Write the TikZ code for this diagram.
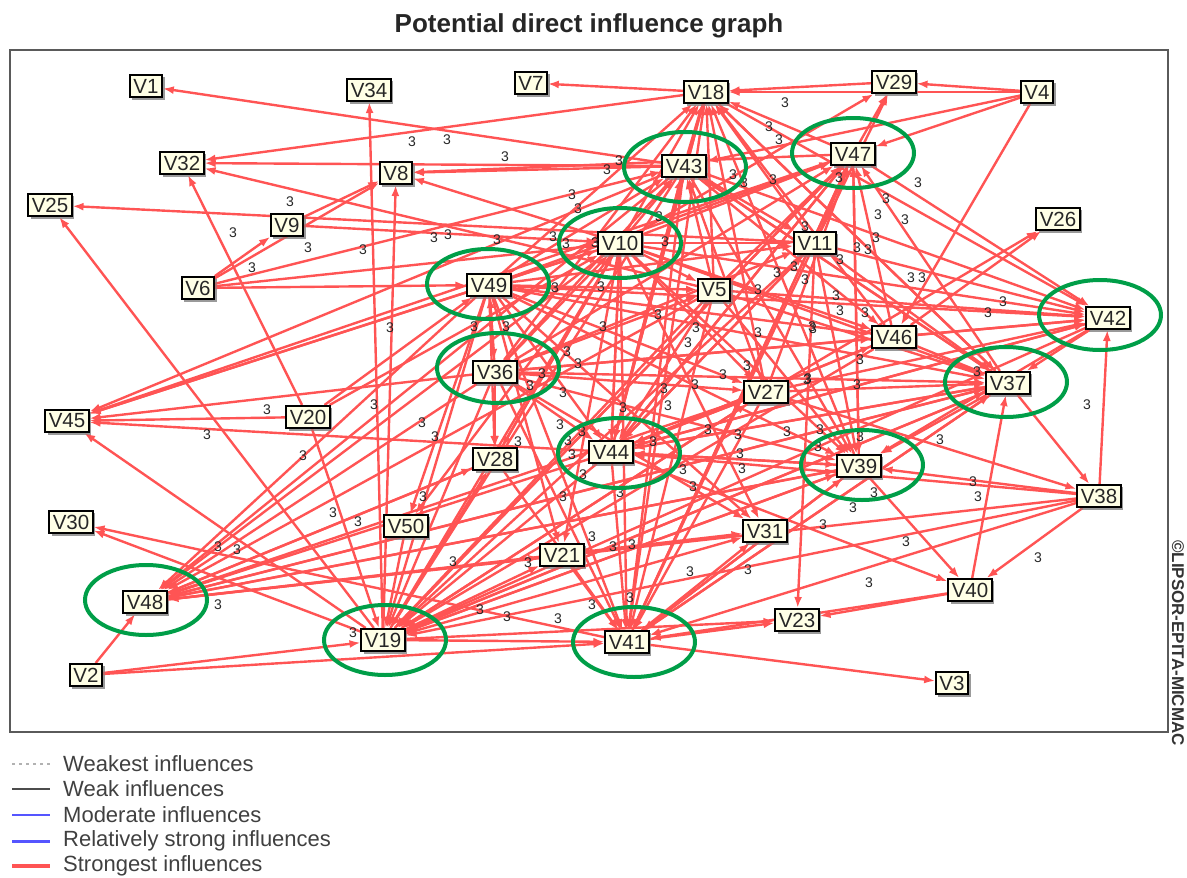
\documentclass[tikz,border=0pt]{standalone}
\usepackage{fontspec}
\setmainfont{Liberation Sans}
\usetikzlibrary{arrows.meta,shadows}
\definecolor{cream}{RGB}{255,255,230}
\definecolor{redl}{RGB}{255,84,84}
\definecolor{gr}{RGB}{0,158,72}
\definecolor{txt}{RGB}{38,38,38}
\definecolor{frm}{RGB}{90,90,90}
\definecolor{bluel}{RGB}{85,85,255}
\begin{document}
\begin{tikzpicture}[x=1pt,y=-1pt,
  vbox/.style={draw=black, line width=1.6pt, fill=cream, inner xsep=3.5pt, inner ysep=4pt,
    font=\fontsize{20.5}{20.5}\selectfont, text=txt,
    drop shadow={shadow xshift=2.5pt, shadow yshift=-2.5pt, fill=black!50, opacity=0.55}},
  edge/.style={draw=redl, line width=2.4pt, -{Latex[length=11pt,width=8pt]}},
  lab/.style={font=\fontsize{14}{14}\selectfont, text=txt, inner sep=0pt},
  ring/.style={draw=gr, line width=4pt},
  legtext/.style={font=\fontsize{22}{22}\selectfont, text=black!75, anchor=west, inner sep=0pt}]
\useasboundingbox (0,0) rectangle (1187,878);
% title and frame
\node[font=\bfseries\fontsize{26}{26}\selectfont, text=txt] (title) at (589,26) {Potential direct influence graph};
\draw[frm, line width=1.5pt] (10,50) rectangle (1168,732);
\node[rotate=-90, font=\bfseries\fontsize{17}{17}\selectfont, text=black!80, inner sep=0pt] (copy) at (1178,643) {©LIPSOR-EPITA-MICMAC};
% coordinates of variables
\foreach \n/\x/\y in {1/146/86, 34/369/90, 7/531/83, 18/706/92, 29/894/82, 4/1037/92,
  32/182/163, 8/396/173, 43/684/166, 47/853/154, 25/50/205, 9/287/225, 10/620/243,
  11/815/243, 26/1058/219, 6/198/288, 49/489/285, 5/714/290, 42/1108/318, 46/894/337,
  36/495/372, 27/766/392, 37/1008/383, 45/67/421, 20/308/417, 44/611/452, 28/495/459,
  39/859/466, 38/1099/496, 30/71/522, 50/406/526, 31/765/531, 21/562/555, 40/970/590,
  48/145/602, 23/797/620, 19/383/640, 41/627/642, 2/86/675, 3/952/683}
  \coordinate (c\n) at (\x,\y);
% invisible placeholders to define borders for edges
\begin{scope}
\foreach \n in {1,34,7,18,29,4,32,8,43,47,25,9,10,11,26,6,49,5,42,46,36,27,37,45,20,44,28,39,38,30,50,31,21,40,48,23,19,41,2,3}
  \node[vbox, draw=none, fill=none, drop shadow={opacity=0}, text opacity=0] (v\n) at (c\n) {V\n};
\end{scope}
% edges
\foreach \a/\b in {43/1, 18/32, 43/32, 5/32, 20/32, 18/7, 4/18, 29/18, 4/29, 4/47, 4/43, 4/46, 10/29, 11/29, 47/29,
  10/8, 43/8, 47/8, 9/8, 6/8, 6/9, 19/34, 19/8, 11/25, 19/25, 6/43, 6/10, 6/49, 9/10,
  43/45, 10/45, 49/45, 36/45, 20/45, 44/45, 19/45, 47/45,
  19/30, 41/30,
  10/48, 49/48, 36/48, 44/48, 37/48, 28/48, 39/48, 2/48, 27/48, 43/48, 5/48, 38/48,
  2/19, 2/41, 19/41, 19/23, 19/31, 19/21, 19/28,
  10/19, 49/19, 36/19, 44/19, 37/19, 39/19, 38/19, 5/19, 27/19, 11/19, 46/19, 42/19, 43/19, 47/19, 20/19, 50/19,
  10/41, 43/41, 49/41, 36/41, 44/41, 5/41, 27/41, 37/41, 39/41, 38/41, 11/41, 28/41, 40/41, 47/41, 18/41, 21/41,
  41/23, 41/3, 41/31, 41/39, 41/37, 11/23, 40/23,
  38/40, 39/40, 44/40, 40/37, 37/38, 38/42, 38/39, 38/44, 27/38,
  20/49, 20/10, 49/36, 36/49,
  49/44, 36/44, 10/44, 43/44, 5/44, 27/44, 37/44, 39/44, 11/44, 42/44, 47/44, 18/44, 46/44,
  37/39, 10/39, 43/39, 49/39, 36/39, 44/39, 19/39, 5/39, 11/39, 47/39, 48/39, 42/39,
  49/37, 36/37, 10/37, 43/37, 44/37, 19/37, 48/37, 5/37, 27/37, 11/37, 46/37, 18/37, 42/37,
  49/42, 10/42, 43/42, 47/42, 11/42, 5/42, 36/42, 44/42, 27/42, 46/42, 18/42,
  10/47, 49/47, 36/47, 44/47, 5/47, 11/47, 27/47, 46/47, 37/47, 39/47, 41/47, 19/47,
  43/18, 10/18, 49/18, 36/18, 44/18, 47/18, 11/18, 46/18, 37/18, 5/18, 27/18, 39/18,
  10/43, 49/43, 36/43, 44/43, 5/43, 27/43, 37/43,
  49/10, 36/10, 44/10, 28/10,
  10/11, 43/11, 49/11, 36/11, 44/11, 27/26, 46/26,
  10/46, 43/46, 49/46, 36/46, 44/46, 49/5, 10/5, 36/5,
  49/27, 36/27, 10/27, 44/27, 19/27, 49/28, 36/28, 10/28, 48/28,
  48/21, 49/21, 10/21, 48/31, 49/31, 10/31, 36/31, 49/50, 10/50}
  \draw[edge] (v\a) -- (v\b);
% visible variable boxes
\foreach \n in {1,34,7,18,29,4,32,8,43,47,25,9,10,11,26,6,49,5,42,46,36,27,37,45,20,44,28,39,38,30,50,31,21,40,48,23,19,41,2,3}
  \node[vbox] (w\n) at (c\n) {V\n};
% influence labels
\foreach \x/\y [count=\i] in {412/142, 447/140, 505/157, 607/170, 619/161, 733/175, 785/103, 769/127, 779/140, 773/180, 744/183, 839/178, 918/183, 878/215, 886/199, 905/220, 857/248, 868/250, 876/238, 911/278, 922/278, 794/267, 805/280, 777/273, 836/296, 840/311, 865/313, 1003/302, 988/313, 812/327, 840/260, 805/227,
  572/195, 578/209, 659/217, 290/202, 233/233, 308/248, 252/268, 363/250, 434/238, 448/235, 497/240, 553/237, 566/244, 595/243, 665/242,
  555/288, 601/287, 758/290, 390/328, 474/327, 506/327, 603/327, 658/315, 696/328, 688/343, 758/333, 813/329,
  567/352, 578/364, 530/386, 542/374, 563/393, 747/366, 723/375, 695/385, 664/389, 668/406, 623/408, 808/379,
  374/405, 267/410, 207/435, 303/456, 422/423, 435/437, 518/442, 560/425, 568/441, 582/432, 572/455, 583/475, 653/442, 620/493, 683/470, 693/487, 708/430, 738/435, 740/454, 742/469, 787/432,
  423/497, 563/497, 592/537, 613/547, 632/545, 453/562, 528/563, 690/572, 748/570, 592/605, 630/598, 480/610, 507/617, 558/619,
  333/513, 358/522, 218/547, 237/550, 218/605, 353/633,
  977/372, 860/360, 857/385, 807/380, 820/430, 818/447, 860/437, 940/440, 973/482, 978/497, 874/493, 853/508, 823/525, 906/542, 1038/558, 1087/405, 869/583}
  \node[lab] (l\i) at (\x,\y) {3};
% green highlight rings
\foreach \x/\y in {685/167, 853/153, 620/243, 488/284, 1100/315, 498/368, 1006/382, 619/453, 862/465, 146/600, 385/640, 634/642}
  \draw[ring] (\x,\y) ellipse [x radius=61, y radius=35];
% legend
\draw[gray!60, line width=1.2pt, dash pattern=on 3pt off 4pt] (12,764) -- (50,764);
\draw[black!70, line width=1.3pt] (12,789) -- (50,789);
\draw[bluel, line width=1.3pt] (12,815) -- (50,815);
\draw[bluel, line width=3pt] (12,841) -- (50,841);
\draw[redl, line width=3.5pt] (12,866) -- (50,866);
\node[legtext] (lg1) at (63,764) {Weakest influences};
\node[legtext] (lg2) at (63,789) {Weak influences};
\node[legtext] (lg3) at (63,815) {Moderate influences};
\node[legtext] (lg4) at (63,841) {Relatively strong influences};
\node[legtext] (lg5) at (63,866) {Strongest influences};
\end{tikzpicture}
\end{document}
